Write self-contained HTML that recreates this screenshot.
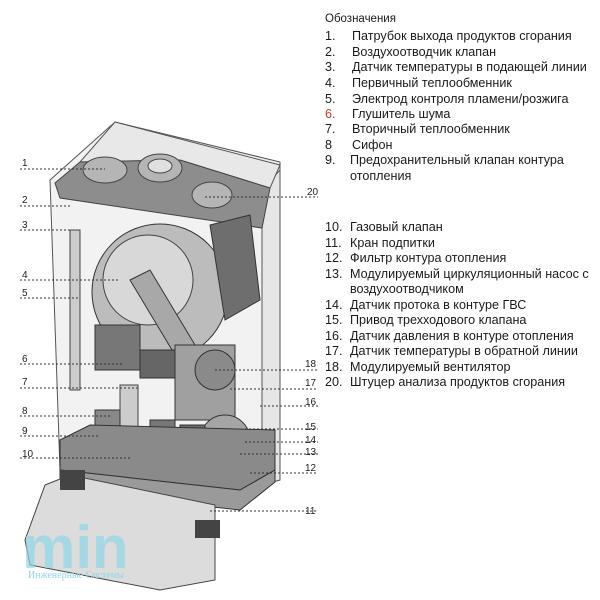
<!DOCTYPE html>
<html><head><meta charset="utf-8"><style>
body{margin:0;width:600px;height:600px;background:#fff;overflow:hidden;font-family:"Liberation Sans","Noto Sans CJK SC",sans-serif}
.t{position:absolute;font-size:12.6px;color:#1a1a1a;white-space:nowrap}
.n{position:absolute;font-size:12.6px;color:#1a1a1a}
</style></head><body>
<svg width="600" height="600" style="position:absolute;left:0;top:0">
<g stroke="#555" stroke-width="1" fill="#f2f2f2">
<polygon points="115,122 280,162 280,480 262,485 60,470 50,180"/>
<polygon points="262,190 280,170 280,480 262,485" fill="#e6e6e6"/>
</g>
<polygon points="115,122 280,165 270,188 180,160 80,162" fill="#e8e8e8" stroke="#555"/>
<polygon points="55,183 80,162 180,160 270,188 262,228 60,198" fill="#8d8d8d" stroke="#444"/>
<g fill="#b5b5b5" stroke="#444">
<ellipse cx="105" cy="170" rx="22" ry="13"/><ellipse cx="160" cy="168" rx="22" ry="14"/><ellipse cx="212" cy="195" rx="20" ry="13"/>
</g>
<ellipse cx="160" cy="166" rx="12" ry="7" fill="#e0e0e0" stroke="#444"/>
<circle cx="160" cy="292" r="68" fill="#bcbcbc" stroke="#333"/>
<circle cx="148" cy="280" r="45" fill="#d8d8d8" stroke="#444"/>
<polygon points="130,280 150,270 195,345 175,355" fill="#a8a8a8" stroke="#333"/>
<polygon points="210,225 250,215 260,300 225,320" fill="#6e6e6e" stroke="#333"/>
<rect x="95" y="325" width="45" height="45" fill="#777" stroke="#333"/>
<rect x="140" y="350" width="35" height="28" fill="#666" stroke="#333"/>
<rect x="70" y="230" width="10" height="160" fill="#ccc" stroke="#444"/>
<rect x="120" y="385" width="18" height="80" fill="#ccc" stroke="#444"/>
<rect x="175" y="345" width="60" height="75" fill="#a0a0a0" stroke="#333"/>
<circle cx="215" cy="370" r="20" fill="#8a8a8a" stroke="#333"/>
<circle cx="225" cy="440" r="25" fill="#a5a5a5" stroke="#333"/>
<rect x="150" y="420" width="25" height="40" fill="#777" stroke="#333"/>
<rect x="95" y="410" width="25" height="35" fill="#888" stroke="#333"/>
<rect x="180" y="425" width="25" height="30" fill="#6a6a6a" stroke="#333"/>
<polygon points="60,440 90,425 275,430 275,470 240,490 60,470" fill="#8a8a8a" stroke="#333"/>
<polygon points="60,470 240,490 275,470 275,482 240,510 60,490" fill="#9a9a9a" stroke="#333"/>
<polygon points="45,485 70,475 215,505 215,580 160,590 30,565 25,540" fill="#dcdcdc" stroke="#444"/>
<rect x="60" y="470" width="25" height="20" fill="#444"/><rect x="195" y="520" width="25" height="18" fill="#444"/>
<g stroke="#333" stroke-dasharray="2,2" stroke-width="1">
<line x1="20" y1="169" x2="105" y2="169"/><line x1="20" y1="206" x2="72" y2="206"/>
<line x1="20" y1="230" x2="70" y2="230"/><line x1="20" y1="280" x2="118" y2="280"/>
<line x1="20" y1="298" x2="80" y2="298"/><line x1="20" y1="364" x2="122" y2="364"/>
<line x1="20" y1="388" x2="140" y2="388"/><line x1="20" y1="416" x2="110" y2="416"/>
<line x1="20" y1="436" x2="100" y2="436"/><line x1="20" y1="458" x2="130" y2="458"/>
<line x1="205" y1="197" x2="318" y2="197"/><line x1="215" y1="370" x2="318" y2="370"/>
<line x1="230" y1="389" x2="318" y2="389"/><line x1="260" y1="406" x2="318" y2="406"/>
<line x1="245" y1="429" x2="318" y2="429"/><line x1="245" y1="442" x2="318" y2="442"/>
<line x1="240" y1="454" x2="318" y2="454"/><line x1="250" y1="473" x2="318" y2="473"/>
<line x1="210" y1="511" x2="318" y2="511"/>
</g>
<g font-size="10" fill="#222" font-family="Liberation Sans,sans-serif">
<text x="22" y="166">1</text><text x="22" y="203">2</text><text x="22" y="228">3</text>
<text x="22" y="278">4</text><text x="22" y="296">5</text><text x="22" y="362">6</text>
<text x="22" y="385">7</text><text x="22" y="414">8</text><text x="22" y="434">9</text>
<text x="22" y="457">10</text>
<text x="307" y="195">20</text><text x="305" y="367">18</text><text x="305" y="386">17</text>
<text x="305" y="405">16</text><text x="305" y="430">15</text><text x="305" y="443">14</text>
<text x="305" y="455">13</text><text x="305" y="471">12</text><text x="305" y="514">11</text>
</g>
<text x="22" y="568" font-size="60" font-weight="bold" fill="#8fd6e6" fill-opacity="0.7" font-family="Liberation Sans,sans-serif">min</text>
<text x="28" y="578" font-size="10" fill="#8fd6e6" font-family="Liberation Serif,serif">Инженерные Системы</text>
</svg>
<div class="t" style="left:325px;top:13px;font-size:11.5px">Обозначения</div>
<div class="n" style="left:325px;top:29px">1.</div><div class="t" style="left:352px;top:29px">Патрубок выхода продуктов сгорания</div>
<div class="n" style="left:325px;top:45px">2.</div><div class="t" style="left:352px;top:45px">Воздухоотводчик клапан</div>
<div class="n" style="left:325px;top:60px">3.</div><div class="t" style="left:352px;top:60px">Датчик температуры в подающей линии</div>
<div class="n" style="left:325px;top:76px">4.</div><div class="t" style="left:352px;top:76px">Первичный теплообменник</div>
<div class="n" style="left:325px;top:92px">5.</div><div class="t" style="left:352px;top:92px">Электрод контроля пламени/розжига</div>
<div class="n" style="left:325px;top:107px;color:#c0392b">6.</div><div class="t" style="left:352px;top:107px">Глушитель шума</div>
<div class="n" style="left:325px;top:122px">7.</div><div class="t" style="left:352px;top:122px">Вторичный теплообменник</div>
<div class="n" style="left:325px;top:138px">8</div><div class="t" style="left:352px;top:138px">Сифон</div>
<div class="n" style="left:325px;top:153px">9.</div><div class="t" style="left:350px;top:153px">Предохранительный клапан контура</div>
<div class="t" style="left:350px;top:169px">отопления</div>
<div class="n" style="left:325px;top:220px">10.</div><div class="t" style="left:350px;top:220px">Газовый клапан</div>
<div class="n" style="left:325px;top:236px">11.</div><div class="t" style="left:350px;top:236px">Кран подпитки</div>
<div class="n" style="left:325px;top:251px">12.</div><div class="t" style="left:350px;top:251px">Фильтр контура отопления</div>
<div class="n" style="left:325px;top:267px">13.</div><div class="t" style="left:350px;top:267px">Модулируемый циркуляционный насос с</div>
<div class="t" style="left:350px;top:282px">воздухоотводчиком</div>
<div class="n" style="left:325px;top:298px">14.</div><div class="t" style="left:350px;top:298px">Датчик протока в контуре ГВС</div>
<div class="n" style="left:325px;top:313px">15.</div><div class="t" style="left:350px;top:313px">Привод трехходового клапана</div>
<div class="n" style="left:325px;top:329px">16.</div><div class="t" style="left:350px;top:329px">Датчик давления в контуре отопления</div>
<div class="n" style="left:325px;top:344px">17.</div><div class="t" style="left:350px;top:344px">Датчик температуры в обратной линии</div>
<div class="n" style="left:325px;top:360px">18.</div><div class="t" style="left:350px;top:360px">Модулируемый вентилятор</div>
<div class="n" style="left:325px;top:375px">20.</div><div class="t" style="left:350px;top:375px">Штуцер анализа продуктов сгорания</div>
</body></html>
